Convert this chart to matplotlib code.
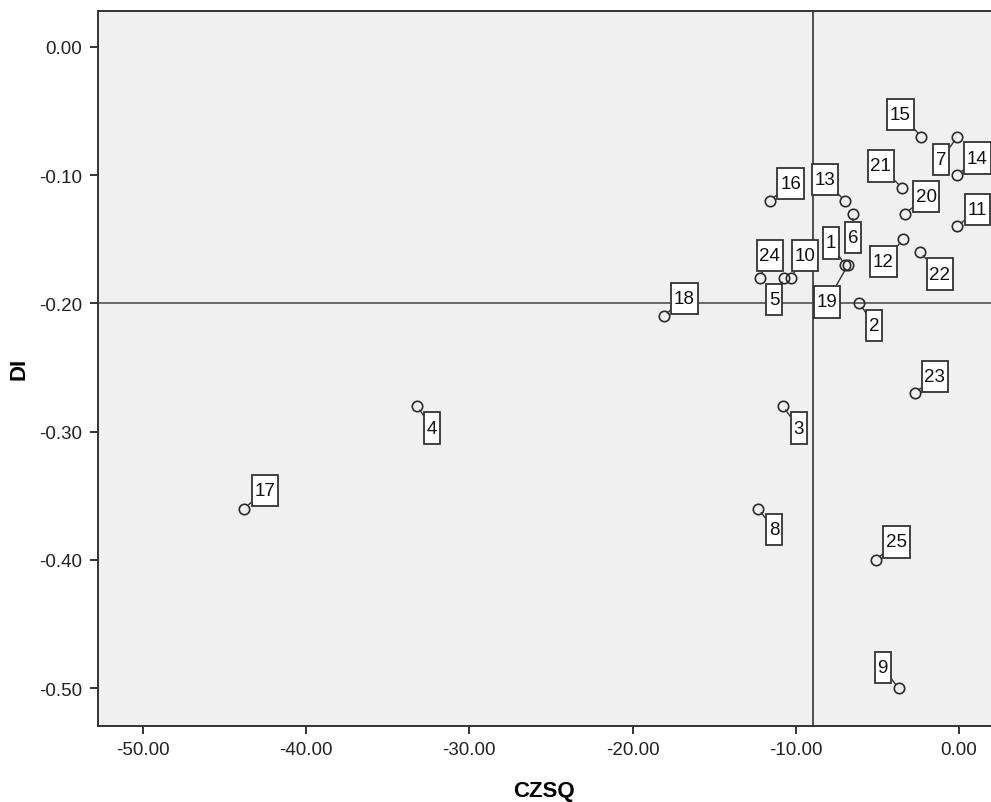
import matplotlib
matplotlib.use("Agg")
import matplotlib.pyplot as plt
from matplotlib.path import Path
from matplotlib.ticker import FormatStrFormatter

# case numbers with their CZSQ / DI scores
case_ids = [1, 2, 3, 4, 5, 6, 7, 8, 9, 10, 11, 12, 13,
            14, 15, 16, 17, 18, 19, 20, 21, 22, 23, 24, 25]
czsq = [-7.0, -6.1, -10.8, -33.2, -10.7, -6.5, -0.1, -12.3, -3.7, -10.3, -0.1, -3.4, -7.0,
        -0.1, -2.3, -11.6, -43.8, -18.1, -6.8, -3.3, -3.5, -2.4, -2.7, -12.2, -5.1]
di = [-0.17, -0.20, -0.28, -0.28, -0.18, -0.13, -0.07, -0.36, -0.50, -0.18, -0.14, -0.15, -0.12,
      -0.10, -0.07, -0.12, -0.36, -0.21, -0.17, -0.13, -0.11, -0.16, -0.27, -0.18, -0.40]

# reference lines
czsq_ref = -8.92
di_ref = -0.20

x_ticks = [-50, -40, -30, -20, -10, 0]
y_ticks = [0.0, -0.1, -0.2, -0.3, -0.4, -0.5]

# where each case label sits relative to its point (pixels, y up)
label_offsets = {
    1: (-14, 22), 2: (15, -22), 3: (16, -22), 4: (15, -22), 5: (-10, -22),
    6: (0, -24), 7: (-16, -23), 8: (16, -21), 9: (-16, 21), 10: (14, 22),
    11: (20, 17), 12: (-20, -22), 13: (-20, 21), 14: (20, 17), 15: (-21, 22),
    16: (21, 17), 17: (21, 18), 18: (21, 18), 19: (-21, -37), 20: (21, 17),
    21: (-21, 22), 22: (20, -22), 23: (20, 17), 24: (10, 22), 25: (21, 18),
}


def label_box(x0, y0, width, height, mutation_scale):
    # narrow side padding, taller top/bottom padding
    px = 0.15 * mutation_scale
    py = 0.38 * mutation_scale
    x0, y0 = x0 - px, y0 - py
    x1, y1 = x0 + width + 2 * px, y0 + height + 2 * py
    return Path([(x0, y0), (x1, y0), (x1, y1), (x0, y1), (x0, y0)], closed=True)


plt.rcParams["font.family"] = ["Liberation Sans", "DejaVu Sans"]

fig = plt.figure(figsize=(9.91, 8.03), dpi=100)
ax = fig.add_axes([0.0986, 0.0950, 0.9014, 0.8904])
ax.set_facecolor("#f0f0f0")

ax.axvline(czsq_ref, color="#222222", lw=1.1, zorder=1)
ax.axhline(di_ref, color="#444444", lw=1.1, zorder=1)

ax.plot(czsq, di, linestyle="none", marker="o", markersize=7.5,
        markerfacecolor="none", markeredgecolor="#2a2a2a", markeredgewidth=1.2, zorder=3)

for cid, x, y in zip(case_ids, czsq, di):
    dx, dy = label_offsets[cid]
    ax.annotate(str(cid), xy=(x, y), xytext=(dx, dy), textcoords="offset pixels",
                ha="center", va="center", fontsize=13.5, color="#111111", zorder=4,
                bbox=dict(boxstyle=label_box, facecolor="white",
                          edgecolor="#333333", linewidth=1.3),
                arrowprops=dict(arrowstyle="-", color="#333333", lw=1.0,
                                shrinkA=0, shrinkB=3.5))

ax.set_xlim(-52.76, 1.96)
ax.set_ylim(-0.5292, 0.0281)
ax.set_xticks(x_ticks)
ax.set_yticks(y_ticks)
ax.xaxis.set_major_formatter(FormatStrFormatter("%.2f"))
ax.yaxis.set_major_formatter(FormatStrFormatter("%.2f"))
ax.tick_params(direction="out", length=6, width=1.4, color="#333333",
               labelsize=13.5, labelcolor="#222222", pad=5)

for side in ["left", "bottom", "top"]:
    ax.spines[side].set_color("#333333")
    ax.spines[side].set_linewidth(1.4)
ax.spines["right"].set_visible(False)

ax.set_xlabel("CZSQ", fontsize=16, fontweight="bold", labelpad=16)
ax.set_ylabel("DI", fontsize=16, fontweight="bold", labelpad=7)

fig.savefig("out.png", dpi=100, facecolor="white")
